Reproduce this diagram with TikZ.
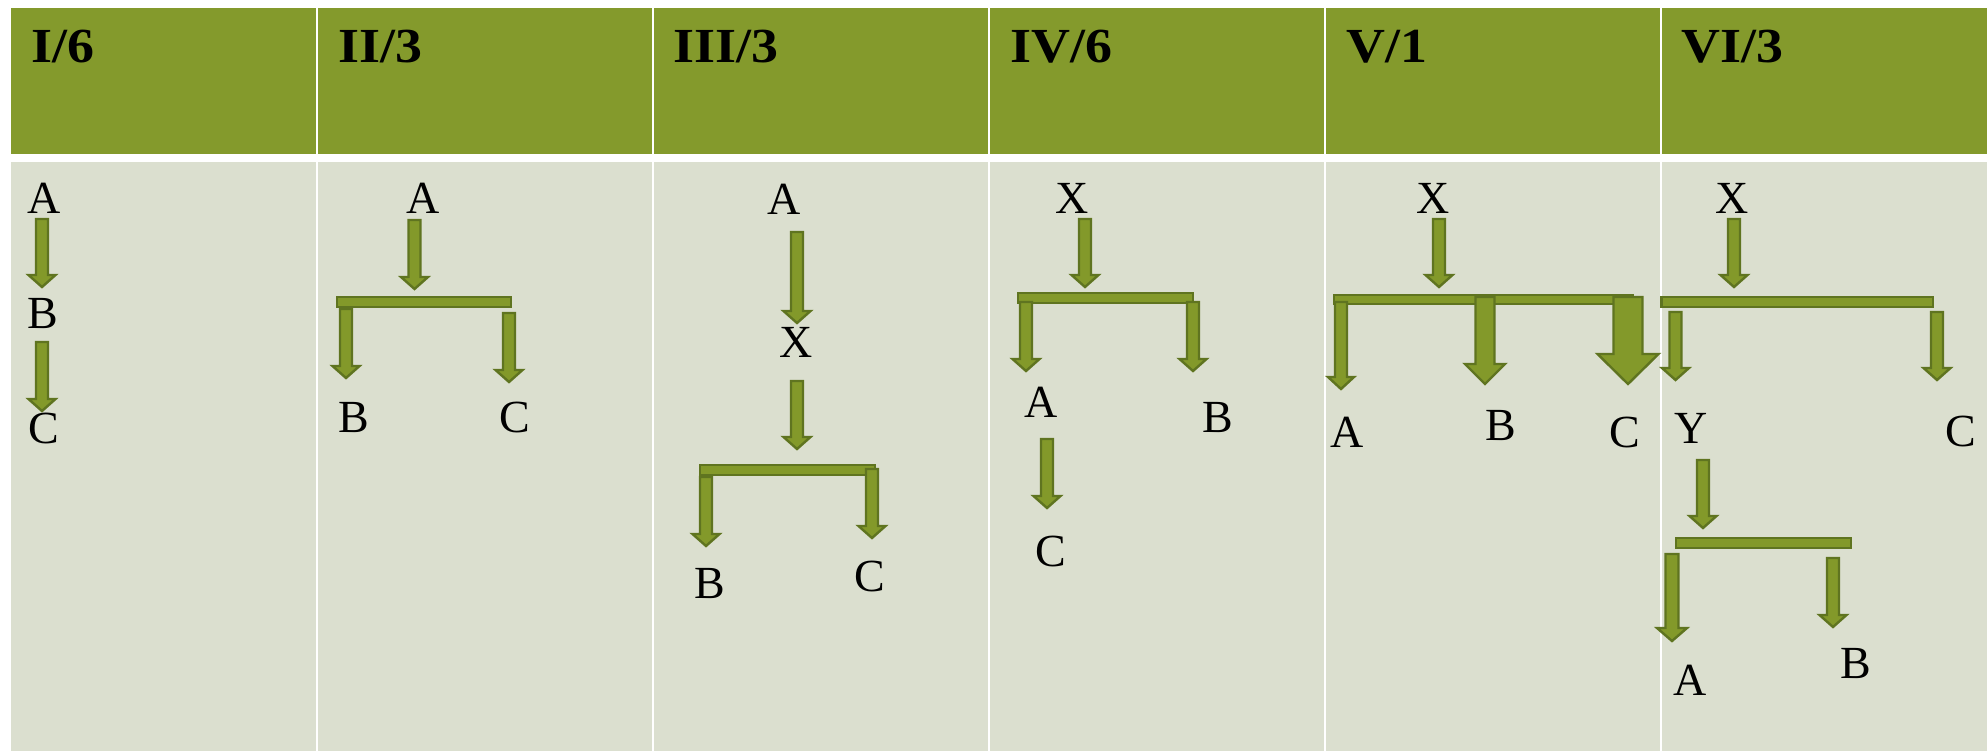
\documentclass[tikz,border=0pt]{standalone}
\usepackage{fontspec}
\setmainfont{Liberation Serif}
\newfontfamily\hdfont{Liberation Serif}[FakeStretch=1.1]
\definecolor{hdr}{RGB}{132,154,44}
\definecolor{cellbg}{RGB}{219,223,207}
\definecolor{arrfill}{RGB}{131,153,42}
\definecolor{arrline}{RGB}{95,116,32}
\tikzset{
  lbl/.style={anchor=base, inner sep=0pt, font=\fontsize{23}{26}\selectfont},
  hd/.style={anchor=base west, inner sep=0pt, font=\hdfont\fontsize{24.5}{28}\selectfont\bfseries},
  blk/.style={fill=arrfill, draw=arrline, line width=1.2pt, line join=miter},
}
% cx, top, tip, shaft width, head width, head length
\newcommand\blkarrow[6]{%
  \draw[blk] ({#1-#4/2},#2) -- ({#1-#4/2},{#3-#6}) -- ({#1-#5/2},{#3-#6}) -- (#1,#3)
    -- ({#1+#5/2},{#3-#6}) -- ({#1+#4/2},{#3-#6}) -- ({#1+#4/2},#2) -- cycle;}
\newcommand\blkbar[4]{\draw[blk] (#1,#3) rectangle (#2,#4);}
\begin{document}
\begin{tikzpicture}[x=0.5pt,y=-0.5pt]
\fill[white] (0,0) rectangle (1987,751);
\useasboundingbox (0,0) rectangle (1987,751);
% table cells
\foreach \l/\r in {10.7/315.6, 318/651.8, 654.2/987.8, 990.2/1323.8, 1326.2/1659.8, 1662.2/1987}{
  \fill[hdr] (\l,8) rectangle (\r,154.3);
  \fill[cellbg] (\l,162.3) rectangle (\r,751);
}
% headers
\node[hd] (h1) at (31,62) {I/6};
\node[hd] (h2) at (338,62) {II/3};
\node[hd] (h3) at (673,62) {III/3};
\node[hd] (h4) at (1010,62) {IV/6};
\node[hd] (h5) at (1346,62) {V/1};
\node[hd] (h6) at (1681,62) {VI/3};

% column 1
\node[lbl] (c1A) at (44.5,213) {A};
\node[lbl] (c1B) at (43,328) {B};
\node[lbl] (c1C) at (44,443) {C};
\blkarrow{42}{219}{287}{12}{27}{12}
\blkarrow{42}{342}{411}{12}{27}{12}

% column 2
\node[lbl] (c2A) at (423,213) {A};
\node[lbl] (c2B) at (354,432) {B};
\node[lbl] (c2C) at (515,432) {C};
\blkarrow{414.5}{220}{289}{12}{27}{12}
\blkbar{337}{511}{297}{307}
\blkarrow{346}{309}{378}{12}{27}{12}
\blkarrow{509}{313}{382}{12}{27}{12}

% column 3
\node[lbl] (c3A) at (784,214) {A};
\node[lbl] (c3X) at (796,357) {X};
\node[lbl] (c3B) at (710,598) {B};
\node[lbl] (c3C) at (870,591) {C};
\blkarrow{797}{232}{323}{12}{27}{12}
\blkarrow{797}{381}{449}{12}{27}{12}
\blkbar{700}{875}{465}{475}
\blkarrow{706}{477}{546}{12}{27}{12}
\blkarrow{872}{469}{538}{12}{27}{12}

% column 4
\node[lbl] (c4X) at (1072,213) {X};
\node[lbl] (c4A) at (1041,417) {A};
\node[lbl] (c4B) at (1218,432) {B};
\node[lbl] (c4C) at (1051,566) {C};
\blkarrow{1085}{219}{287}{12}{27}{12}
\blkbar{1018}{1193}{293}{303}
\blkarrow{1026}{302}{371}{12}{27}{12}
\blkarrow{1193}{302}{371}{12}{27}{12}
\blkarrow{1047}{439}{508}{12}{27}{12}

% column 5
\node[lbl] (c5X) at (1433,213) {X};
\node[lbl] (c5A) at (1347,447) {A};
\node[lbl] (c5B) at (1501,440) {B};
\node[lbl] (c5C) at (1625,447) {C};
\blkarrow{1439}{219}{287}{12}{27}{12}
\blkbar{1334}{1633}{295}{304}
\blkarrow{1341}{302}{389}{12}{26}{12}
\blkarrow{1485}{297}{384}{19}{40}{20}
\blkarrow{1628}{297}{384}{29}{61}{30}

% column 6
\node[lbl] (c6X) at (1732,213) {X};
\node[lbl] (c6Y) at (1691,443) {Y};
\node[lbl] (c6C) at (1961,446) {C};
\node[lbl] (c6A) at (1690,695) {A};
\node[lbl] (c6B) at (1856,678) {B};
\blkarrow{1734}{219}{287}{12}{27}{12}
\blkbar{1661.5}{1933}{297}{307}
\blkarrow{1675.5}{312}{380}{12}{27}{12}
\blkarrow{1937}{312}{380}{12}{27}{12}
\blkarrow{1703}{460}{528}{12}{27}{12}
\blkbar{1676}{1851}{538}{548}
\blkarrow{1672}{554}{641}{13}{30}{13}
\blkarrow{1833}{558}{627}{12}{27}{12}
\end{tikzpicture}
\end{document}
